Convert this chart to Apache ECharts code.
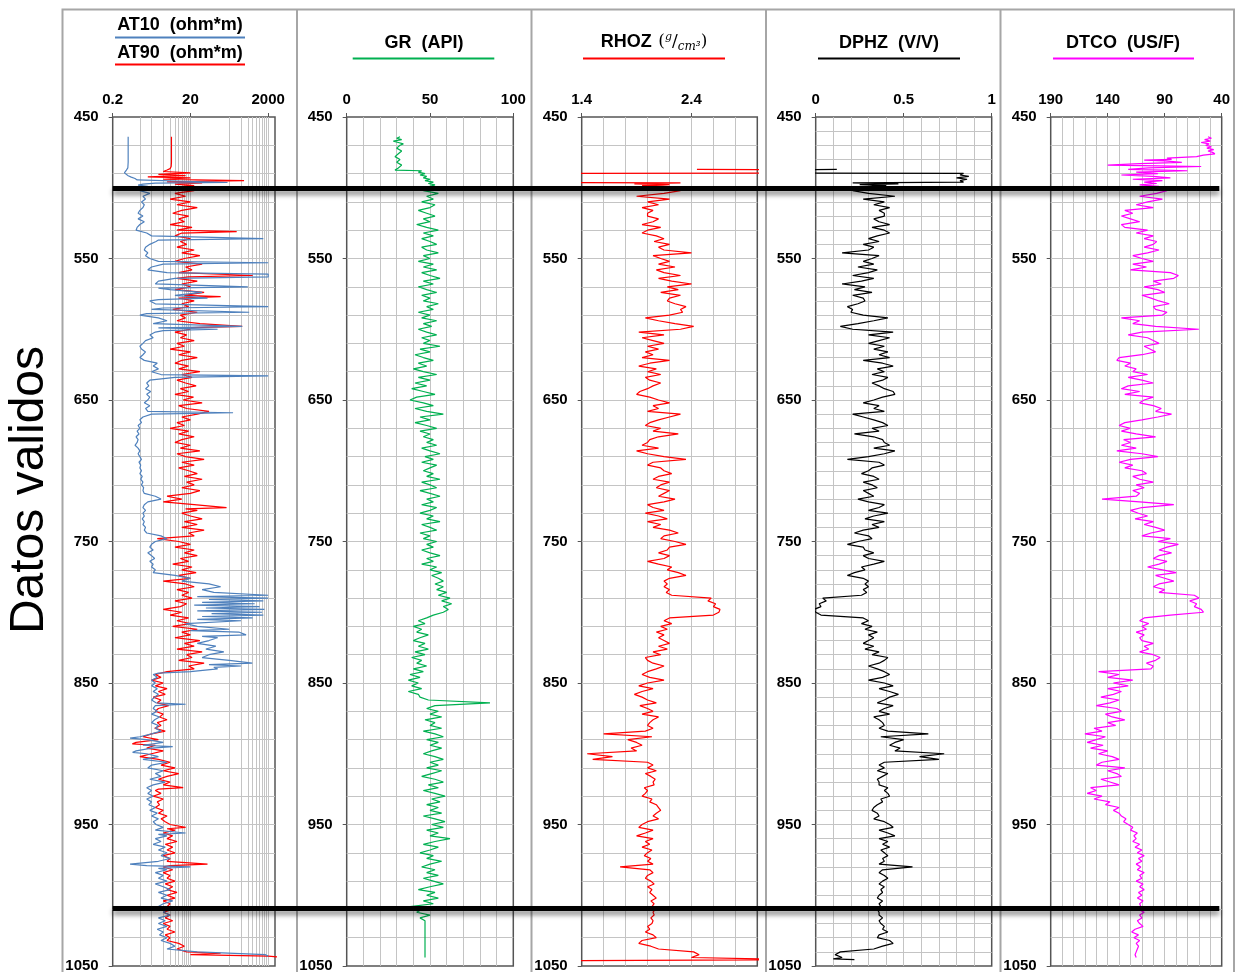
<!DOCTYPE html>
<html><head><meta charset="utf-8">
<script src="https://cdn.jsdelivr.net/npm/echarts@6/dist/echarts.min.js"></script>
<style>html,body{margin:0;padding:0;background:#fff}#chart{width:1241px;height:972px}</style>
</head><body><div id="chart"></div>
<script>
// ---------------- DATA ----------------
const DEPTH_MIN = 450, DEPTH_MAX = 1050;
const DEPTH_START = 500, DEPTH_STEP = 2;
const boundaryDepths = [500, 1009];
const depthTickLabels = [450, 550, 650, 750, 850, 950, 1050];

const atTickLabels = [0.2, 20, 2000];
const grTickLabels = [0, 50, 100];
const rhozTickLabels = [1.4, 2.4];
const dphzTickLabels = [0, 0.5, 1];
const dtcoTickLabels = [190, 140, 90, 40];
const atGridValues = [1, 2, 4, 6, 8, 10, 12, 14, 16, 18, 20, 200, 400, 600, 800, 1000, 1200, 1400, 1600, 1800, 2000];

// [depth, ohm*m]
const at10 = [[464,0.5],[470,0.5],[476,0.5],[482,0.5],[486,0.49],[487.5,0.45],[488.5,0.42],[489.5,0.4],[490.5,0.44],[491.5,0.5],[492.5,0.6],[493.5,0.75],[494.5,0.85],[495.5,0.9],[496.3,180],[496.8,2.5],[497.5,1.2],[498.2,0.9],[499,1.6],
[500,1.5],[502,1.0],[504,1.8],[506,1.2],[508,1.4],[510,1.1],[512,1.3],[514,1.2],[516,1.0],[518,0.9],
[520,1.2],[522,0.9],[524,1.3],[526,1.0],[528,0.85],[530,0.8],[532,1.5],[534,2.0],[536,1500],[537,3.0],[538,2.6],
[540,1.8],[542,1.4],[544,1.3],[546,1.6],[548,1.4],[550,1.8],[552,3.0],[553,2000],[554,4.0],[556,2.0],[558,1.6],
[560,5],[561,2000],[562,1800],[563,2000],[564,8],[566,3],[568,2.5],[570,600],[571,3],[572,6],[574,40],[576,8],[578,55],[579,3],
[580,1.8],[582,2.5],[584,2000],[585,4],[586,2],[588,650],[589,1.5],[590,1.0],[592,3],[594,5],[596,2.2],[598,430],[599,3],
[600,100],[601,4],[602,2.5],[604,1.8],[606,2.2],[608,1.4],[610,1.2],[612,1.0],[614,1.1],[616,1.4],[618,1.2],
[620,1.0],[622,1.3],[624,2.8],[626,2.2],[628,3.0],[630,2.0],[632,3.5],[633,2000],[634,8],[636,1.8],[638,1.5],
[640,1.7],[642,1.4],[644,1.9],[646,1.5],[648,1.8],[650,1.6],[652,1.3],[654,1.8],[656,1.4],[658,1.6],[659,250],
[660,2.0],[662,1.2],[664,1.0],[666,1.1],[668,0.9],[670,1.0],[672,0.85],[674,0.95],[676,0.8],[678,0.9],
[680,0.85],[682,0.75],[684,0.9],[686,1.0],[688,0.9],[690,1.0],[692,1.1],[694,0.95],[696,1.05],[698,1.0],
[700,1.1],[702,1.0],[704,1.15],[706,1.05],[708,1.2],[710,1.1],[712,1.25],[714,1.2],[716,1.3],[718,2.5],
[720,3.5],[722,1.6],[724,1.3],[726,1.2],[728,1.4],[730,1.2],[732,1.3],[734,1.15],[736,1.3],[738,1.2],
[740,1.4],[742,1.3],[744,1.5],[746,3.5],[748,5],[750,2.5],[752,2.0],[754,1.8],[756,2.2],[758,1.6],
[760,2.0],[762,2.4],[764,1.8],[766,2.2],[768,2.0],[770,2.5],[772,2.2],[774,8],[776,20],[778,12],
[780,60],[782,120],[784,40],[786,80],[788,2000],[789,30],[790,2000],[791,60],[792,1500],[793,40],[794,900],[795,25],[796,1200],[797,50],[798,1600],[799,30],
[800,1400],[801,70],[802,1500],[803,40],[804,800],[805,30],[806,400],[808,15],[810,30],[812,200],[813,20],[814,350],[816,540],[817,40],[818,100],
[820,60],[822,30],[824,90],[826,50],[828,145],[830,60],[832,40],[834,200],[836,780],[837,60],[838,400],[839,80],
[840,100],[842,20],[843,3],[844,2.2],[846,2.8],[848,2.0],
[850,2.5],[852,2.0],[854,2.8],[856,2.2],[858,3.0],[860,2.4],[862,2.0],[864,2.6],[865,15],[866,2.5],[868,2.2],
[870,2.8],[872,2.0],[874,3.2],[876,2.4],[878,2.0],[880,3.0],[882,2.5],[884,3.5],[886,2.0],[888,1.0],[889,0.56],
[890,1.5],[892,4],[894,1.2],[895,7],[896,2.0],[898,0.8],[899,0.65],[900,1.5],[902,3],[904,1.2],[906,5],[908,2],
[910,1.6],[912,4],[914,2.5],[916,3.5],[918,1.8],[920,4.5],[922,2.2],[924,1.5],[926,2.0],[928,1.6],
[930,2.2],[932,1.5],[934,2.0],[936,1.7],[938,2.5],[940,1.8],[942,2.8],[944,2.0],[946,3.0],[948,2.2],
[950,2.6],[952,4],[954,2.5],[956,15],[957,3],[958,5],[960,2.5],[962,3.5],[964,2.2],[966,4.5],[968,3.0],
[970,5.0],[972,3.5],[974,6],[976,3],[978,0.56],[979,1.5],[980,20],[981,3],[982,5],[984,2.5],[986,4],[988,3],
[990,5],[992,2.5],[994,4],[996,6],[998,3],[1000,5],[1002,3.5],[1004,7],[1006,4],[1008,3],
[1010,5],[1012,4],[1014,6],[1016,3],[1018,4.5],[1020,3],[1022,5],[1024,2.8],[1026,4],[1028,3.2],
[1030,5],[1032,3.5],[1034,6],[1036,8],[1038,5],[1040,30],[1042,1700],[1043,2000]];

const at90 = [[464,6.5],[470,6.5],[476,6.5],[482,6.5],[485,6.4],[486.5,6.0],[487.5,5.0],[488.5,4],[489.5,20],[490.5,3],[491.5,15],[492.3,1.6],[493,20],[494,4],[495,480],[495.8,5],[496.5,40],[497.5,8],[498.5,25],[499.3,10],
[500,10],[502,25],[504,8],[506,15],[508,6],[510,20],[512,9],[514,30],[516,12],[518,7],
[520,18],[522,10],[524,14],[526,6],[528,22],[530,9],[531,310],[532,12],[534,8],[536,20],[538,11],
[540,16],[542,9],[544,25],[546,12],[548,35],[550,14],[552,8],[554,40],[556,15],[558,22],
[560,10],[562,800],[563,18],[564,9],[566,30],[568,12],[570,20],[572,8],[574,45],[576,14],[577,120],[578,10],
[580,25],[582,12],[584,18],[586,7],[588,30],[590,11],[592,15],[594,9],[596,35],[598,430],[599,12],
[600,20],[602,8],[604,16],[606,11],[608,25],[610,9],[612,14],[614,6],[616,20],[618,10],
[620,30],[622,12],[624,8],[626,18],[628,10],[630,35],[632,12],[634,22],[636,9],[638,15],
[640,28],[642,11],[644,18],[646,8],[648,24],[650,13],[652,40],[654,10],[656,16],[658,60],
[660,30],[662,12],[664,20],[666,9],[668,14],[670,6],[672,18],[674,10],[676,25],[678,12],
[680,8],[682,20],[684,11],[686,35],[688,9],[690,15],[692,45],[694,12],[696,25],[698,10],
[700,18],[702,30],[704,14],[706,40],[708,16],[710,25],[712,12],[714,35],[716,20],[718,5],
[720,12],[722,4],[724,25],[726,170],[727,15],[728,30],[730,12],[732,20],[734,40],[736,14],[738,30],
[740,12],[742,45],[744,18],[746,25],[748,2.8],[750,10],[752,20],[754,8],[756,25],[758,14],
[760,30],[762,11],[764,18],[766,7],[768,22],[770,12],[772,28],[774,10],[776,20],[778,4],
[780,15],[782,25],[784,9],[786,18],[788,12],[790,22],[792,8],[794,16],[796,11],[798,4],
[800,12],[802,6],[804,18],[806,9],[808,20],[810,7],[812,30],[814,12],[816,20],[818,8],
[820,35],[822,14],[824,25],[826,9],[828,40],[830,16],[832,22],[834,10],[836,45],[838,18],
[840,25],[842,5],[844,2.5],[846,3.5],[848,2.0],[850,4],[852,2.5],[854,5],[856,3],[858,4.5],
[860,2.2],[862,3.5],[864,2.8],[866,5.5],[868,3],[870,2.5],[872,4],[874,3.2],[876,5],[878,2.8],
[880,3.5],[882,2.4],[884,4.5],[886,2.0],[888,1.2],[890,3],[892,0.8],[893,0.64],[894,2.5],[896,1.5],[898,4],
[900,2],[902,1.0],[904,3],[906,6],[908,3.5],[910,8],[912,4],[914,10],[916,5],[918,3],
[920,6],[922,4],[924,13],[925,3],[926,2.5],[928,3.5],[930,2.2],[932,4],[934,2.8],[936,3.2],[938,2.5],
[940,4],[942,3],[944,5],[946,3.5],[948,4.5],[950,6],[952,15],[953,5],[954,8],[956,4],[958,7],
[960,5],[962,9],[964,4.5],[966,7],[968,5],[970,8],[972,4],[974,6],[976,5],[978,55],[979,6],
[980,4],[982,7],[984,4],[986,6],[988,5],[990,8],[992,4.5],[994,7],[996,5],[998,9],
[1000,5],[1002,8],[1004,4],[1006,6],[1008,5],[1010,7],[1012,4],[1014,6],[1016,4.5],[1018,7],
[1020,4],[1022,6],[1024,5],[1026,8],[1028,4.5],[1030,6],[1032,5],[1034,10],[1036,14],[1038,9],
[1040,16],[1041,120],[1042,20],[1043,2000],[1043.6,3500]];

// GR (API): head [depth, value], then regular samples from DEPTH_START every DEPTH_STEP
const grHead = [[464,32],[465,30],[466,33],[467,28],[468,31],[469,34],[470,32],[472,30],[474,33],[476,31],[478,29],[480,32],[482,30],[484,33],[486,31],[487.5,29],[488,45],[489,43],[490,47],[491,44],[492,48],[493,46],[494,50],[495,47],[496,52],[497,49],[498,53],[499,50]];
const grMain = [50,46,55,48,52,45,53,50,43,48,
53,46,50,42,48,55,46,52,45,50,
54,45,48,55,46,50,43,52,46,54,
45,50,56,46,52,43,48,54,45,50,
46,55,48,52,43,50,45,54,46,51,
43,48,54,45,50,46,56,44,50,41,
46,52,43,48,40,46,54,43,50,41,
48,39,46,53,42,38,46,52,41,48,
58,44,50,41,48,54,44,50,46,52,
48,54,45,50,56,47,52,45,54,50,
46,52,48,56,45,50,54,44,50,56,
48,52,45,54,50,44,52,48,56,45,
50,54,44,50,46,54,48,52,45,50,
56,48,52,45,54,50,57,51,55,58,
53,58,54,60,55,62,57,63,58,61,
58,52,48,43,47,40,45,42,49,44,
40,47,43,49,41,47,39,45,42,48,
40,46,38,44,37,43,39,45,37,43,
44,49,86,53,48,55,50,57,47,53,
50,57,46,53,58,48,55,50,57,51,
46,53,58,50,55,48,57,51,45,53,
58,49,55,46,53,59,51,56,48,55,
50,57,46,53,59,51,58,48,55,50,
62,53,46,55,50,44,52,48,57,50,
45,53,48,55,46,52,58,50,43,53,
48,55,46,52,38,45,42,50,44,47,
47,47,47,47,47,47,47,47,47,47,
47,47,47];

// RHOZ (g/cm3)
const rhozHead = [[487,2.45],[487.3,3.3],[489.6,3.3],[489.9,1.25],[496.3,1.25],[496.6,2.3],[497.2,1.88],[497.8,2.2],[498.5,1.95],[499.2,2.2]];
const rhozMain = [2.25,2.3,2.15,1.9,2.2,2.0,2.1,1.95,2.05,2.0,
2.0,2.1,2.05,1.95,2.12,2.0,1.95,2.08,2.15,2.06,
2.2,2.1,2.15,2.4,2.05,2.12,2.2,2.1,2.25,2.08,
2.15,2.3,2.1,2.22,2.4,2.18,2.28,2.12,2.3,2.2,
2.18,2.25,2.35,2.3,2.32,2.2,1.98,2.1,2.25,2.42,
2.3,1.92,2.15,1.95,2.05,2.15,2.0,2.1,1.98,2.05,
1.95,2.2,2.02,1.92,2.08,2.0,2.12,1.98,2.02,2.12,
2.05,2.0,1.93,1.9,2.02,2.1,2.2,2.05,2.1,2.0,
2.3,2.2,2.1,2.02,1.98,2.12,2.05,2.28,2.1,2.02,
2.0,1.95,2.1,1.9,2.0,2.15,2.35,2.05,2.0,2.12,
2.15,2.22,2.1,2.05,2.2,2.12,2.08,2.2,2.15,2.1,
2.25,2.15,2.0,2.05,2.15,1.98,2.1,2.18,2.0,2.12,
2.05,2.2,2.28,2.15,2.12,2.25,2.35,2.2,2.18,2.1,
2.2,2.15,2.0,2.1,2.22,2.18,2.28,2.35,2.2,2.15,
2.18,2.15,2.2,2.17,2.22,2.58,2.55,2.62,2.6,2.66,
2.65,2.6,2.2,2.15,2.22,2.12,2.18,2.08,2.15,2.1,
2.15,2.2,2.1,2.18,2.05,2.12,1.98,2.0,2.05,2.15,
2.08,2.0,1.95,2.02,2.15,2.0,1.92,2.05,1.95,1.88,
1.95,2.0,2.08,1.93,2.0,2.05,1.95,2.1,2.05,2.02,
2.0,2.05,1.98,1.6,2.04,1.82,1.9,1.95,1.85,1.9,
1.45,1.68,1.5,2.0,2.05,2.0,2.08,1.98,2.03,2.07,
2.05,2.06,1.97,2.0,1.98,1.95,2.04,2.02,2.08,2.1,
2.12,2.08,2.05,2.1,2.0,1.95,1.92,2.05,1.98,1.9,
2.05,1.98,2.02,1.95,2.04,2.0,1.97,2.03,2.0,2.05,
1.75,2.02,2.05,2.0,1.98,2.03,2.06,2.0,2.04,2.02,
2.05,2.08,2.03,2.06,2.04,2.07,2.05,2.06,2.03,2.05,
2.04,2.0,2.02,1.98,2.05,2.08,1.95,1.92,2.03,2.1,
2.42,2.47,2.4];
const rhozTail = [[1045,2.4],[1045.5,3.3],[1046,3.3],[1046.3,1.2]];

// DPHZ (V/V)
const dphzHead = [[487,0.12],[487.3,-0.05],[489.6,-0.05],[489.9,0.84],[491,0.82],[492,0.87],[493,0.8],[494,0.86],[495,0.82],[496,0.84],[496.6,0.21],[497.2,0.47],[497.8,0.25],[498.5,0.4],[499.2,0.3]];
const dphzMain = [0.24,0.21,0.30,0.45,0.27,0.39,0.33,0.42,0.36,0.39,
0.39,0.33,0.36,0.42,0.32,0.39,0.42,0.35,0.30,0.36,
0.27,0.33,0.30,0.15,0.36,0.32,0.27,0.33,0.24,0.35,
0.30,0.21,0.33,0.26,0.15,0.28,0.22,0.32,0.21,0.27,
0.28,0.24,0.18,0.21,0.20,0.27,0.41,0.33,0.24,0.14,
0.21,0.44,0.30,0.42,0.36,0.30,0.39,0.33,0.41,0.36,
0.42,0.27,0.38,0.44,0.35,0.39,0.32,0.41,0.38,0.32,
0.36,0.39,0.44,0.45,0.38,0.33,0.27,0.36,0.33,0.39,
0.21,0.27,0.33,0.38,0.41,0.32,0.36,0.22,0.33,0.38,
0.39,0.42,0.33,0.45,0.39,0.30,0.18,0.36,0.39,0.32,
0.30,0.26,0.33,0.36,0.27,0.32,0.35,0.27,0.30,0.33,
0.24,0.30,0.39,0.36,0.30,0.41,0.33,0.28,0.39,0.32,
0.36,0.27,0.22,0.30,0.32,0.24,0.18,0.27,0.28,0.33,
0.27,0.30,0.39,0.33,0.26,0.28,0.22,0.18,0.27,0.30,
0.28,0.30,0.27,0.29,0.26,0.04,0.06,0.02,0.03,-0.01,
0.0,0.03,0.27,0.30,0.26,0.32,0.28,0.35,0.30,0.33,
0.30,0.27,0.33,0.28,0.36,0.32,0.41,0.39,0.36,0.30,
0.35,0.39,0.42,0.38,0.30,0.39,0.44,0.36,0.42,0.47,
0.42,0.39,0.35,0.44,0.39,0.36,0.42,0.33,0.36,0.38,
0.39,0.36,0.41,0.64,0.37,0.50,0.45,0.42,0.48,0.45,
0.73,0.59,0.70,0.39,0.36,0.39,0.35,0.41,0.38,0.35,
0.36,0.36,0.41,0.39,0.41,0.42,0.37,0.38,0.35,0.33,
0.32,0.35,0.36,0.33,0.39,0.42,0.44,0.36,0.41,0.45,
0.36,0.41,0.38,0.42,0.37,0.39,0.41,0.38,0.39,0.36,
0.55,0.38,0.36,0.39,0.41,0.38,0.36,0.39,0.37,0.38,
0.36,0.35,0.38,0.36,0.37,0.35,0.36,0.36,0.38,0.36,
0.37,0.39,0.38,0.41,0.36,0.35,0.42,0.44,0.38,0.33,
0.14,0.11,0.15];
const dphzTail = [[1045,0.1],[1045.5,0.22]];

// DTCO (us/ft)
const dtcoHead = [[464,52],[465,49],[466,55],[467,50],[468,58],[469,51],[470,54],[471,49],[472,53],[473,47],[474,52],[475,48],[476,46],[477,56],[478,62],[479,88],[480,84],[480.5,108],[481,90],[482,75],[483,112],[484,140],[484.5,96],[485,58],[486,104],[487,122],[487.5,92],[488,70],[489,115],[490,96],[491,128],[492,100],[493,85],[494,118],[495,92],[496,108],[497,97],[498,112],[499,95]];
const dtcoMain = [100,88,97,112,92,105,115,100,125,118,
128,120,112,128,125,105,115,100,108,97,
100,108,95,105,118,110,100,118,106,120,
85,78,82,100,93,108,96,90,110,102,
95,86,100,98,88,92,128,112,118,98,
60,110,122,105,100,95,108,103,98,110,
130,132,120,125,115,118,105,122,110,100,
122,128,112,125,100,108,112,100,93,98,
84,96,110,125,130,120,128,115,98,126,
120,128,115,132,110,96,120,130,118,125,
110,106,118,112,100,115,108,118,112,115,
145,112,82,110,120,113,105,116,100,108,
98,90,102,110,85,96,78,88,95,84,
95,100,88,95,105,92,80,98,90,82,
95,100,90,95,64,60,68,62,64,58,
56,85,108,112,104,110,106,115,108,112,
110,100,108,104,112,100,94,98,106,100,
102,148,130,140,118,135,122,140,128,135,
146,130,138,150,132,128,142,136,125,140,
133,152,145,160,142,150,158,144,155,140,
148,136,130,145,150,125,140,132,128,146,
138,130,155,150,158,145,152,138,142,130,
135,130,128,124,126,122,118,120,114,117,
115,118,112,116,110,114,108,113,110,115,
111,114,108,112,110,115,109,112,108,113,
110,114,109,112,111,113,108,112,110,114,
112,109,116,119,113,117,112,115,113,114,
115,116,115];

// ---------------- BUILD ----------------
function pairs(list) { return list.map(p => [p[1], p[0]]); }
function curve(head, main, tail) {
  const out = pairs(head || []);
  main.forEach((v, i) => out.push([v, DEPTH_START + i * DEPTH_STEP]));
  return out.concat(pairs(tail || []));
}

const FONT = 'Arial, "Liberation Sans", sans-serif';
const GRID_C = '#c4c4c4';
const FRAME_C = '#555555';
const TOP = 117, HEIGHT = 849;
const fmt = v => String(+(+v).toFixed(3));

const tracks = [
  { left: 112.7, width: 162.3, type: 'log', min: 0.2, max: 3000, labels: atTickLabels, yStep: 20 },
  { left: 346.7, width: 166.6, type: 'value', min: 0, max: 100, interval: 10, labels: grTickLabels, yStep: 20 },
  { left: 581.7, width: 175.6, type: 'value', min: 1.4, max: 3.0, interval: 0.2, labels: rhozTickLabels, yStep: 20 },
  { left: 815.7, width: 176, type: 'value', min: 0, max: 1, interval: 0.1, labels: dphzTickLabels, yStep: 10 },
  { left: 1050.7, width: 171, type: 'value', min: 40, max: 190, interval: 10, labels: dtcoTickLabels, yStep: 20, inverse: true }
];

const grid = [], xAxis = [], yAxis = [];
const labelStyle = { color: '#000', fontWeight: 'bold', fontSize: 15, fontFamily: FONT };
tracks.forEach((t, i) => {
  grid.push({ left: t.left, top: TOP, width: t.width, height: HEIGHT, show: true, borderColor: FRAME_C, borderWidth: 1.5, containLabel: false, outerBoundsMode: 'none' });
  const a = { gridIndex: i, type: t.type, min: t.min, max: t.max, position: 'top', inverse: !!t.inverse,
    axisLine: { show: false }, axisTick: { show: false }, axisLabel: { show: false },
    splitLine: { show: t.type !== 'log', showMinLine: false, showMaxLine: false, lineStyle: { color: GRID_C, width: 1 } } };
  if (t.interval) a.interval = t.interval;
  if (t.type === 'log') a.logBase = 10;
  xAxis.push(a);
  const b = { gridIndex: i, type: t.type, min: t.min, max: t.max, position: 'top', inverse: !!t.inverse,
    axisLine: { show: false }, splitLine: { show: false },
    axisTick: { show: true, length: 4, customValues: t.labels, lineStyle: { color: FRAME_C, width: 1 } },
    axisLabel: Object.assign({ show: true, margin: 10, formatter: fmt, customValues: t.labels }, labelStyle) };
  if (t.type === 'log') b.logBase = 10;
  xAxis.push(b);
  yAxis.push({ gridIndex: i, type: 'value', position: 'left', min: DEPTH_MIN, max: DEPTH_MAX, interval: t.yStep, inverse: true,
    axisLine: { show: false }, axisTick: { show: false }, axisLabel: { show: false },
    splitLine: { show: true, showMinLine: false, showMaxLine: false, lineStyle: { color: GRID_C, width: 1 } } });
  yAxis.push({ gridIndex: i, type: 'value', position: 'left', min: DEPTH_MIN, max: DEPTH_MAX, inverse: true,
    axisLine: { show: false }, splitLine: { show: false },
    axisTick: { show: true, length: 4, customValues: depthTickLabels, lineStyle: { color: FRAME_C } },
    axisLabel: Object.assign({ show: true, margin: 14, formatter: fmt, customValues: depthTickLabels }, labelStyle) });
});
grid.push({ left: 112.7, top: TOP, width: 1219.3 - 112.7, height: HEIGHT, show: false, containLabel: false, outerBoundsMode: 'none' });
xAxis.push({ gridIndex: 5, type: 'value', min: 0, max: 1, show: false });
yAxis.push({ gridIndex: 5, type: 'value', min: DEPTH_MIN, max: DEPTH_MAX, inverse: true, show: false });

function lineSeries(name, ti, data, color, z) {
  return { name, type: 'line', xAxisIndex: ti * 2, yAxisIndex: ti * 2, data, showSymbol: false, symbol: 'none',
    lineStyle: { color, width: 1.2 }, z: z || 3, animation: false, clip: true };
}

const series = [
  { type: 'line', xAxisIndex: 0, yAxisIndex: 0, data: [], silent: true, z: 1,
    markLine: { silent: true, symbol: ['none', 'none'], z: 1, animation: false, label: { show: false },
      lineStyle: { color: GRID_C, width: 1, type: 'solid' }, emphasis: { disabled: true },
      data: atGridValues.map(v => ({ xAxis: v })) } },
  lineSeries('AT90', 0, pairs(at90), '#ff0000', 3),
  lineSeries('AT10', 0, pairs(at10), '#4f81bd', 4),
  lineSeries('GR', 1, curve(grHead, grMain), '#00b050'),
  lineSeries('RHOZ', 2, curve(rhozHead, rhozMain, rhozTail), '#ff0000'),
  lineSeries('DPHZ', 3, curve(dphzHead, dphzMain, dphzTail), '#000000'),
  lineSeries('DTCO', 4, curve(dtcoHead, dtcoMain), '#ff00ff'),
  { type: 'line', xAxisIndex: 10, yAxisIndex: 10, data: [], z: 20, silent: true,
    markLine: { silent: true, symbol: ['none', 'none'], z: 20, animation: false, label: { show: false },
      emphasis: { disabled: true },
      lineStyle: { color: '#000', width: 5, type: 'solid', shadowColor: 'rgba(0,0,0,0.45)', shadowBlur: 5, shadowOffsetY: 4 },
      data: boundaryDepths.map(d => ({ yAxis: d })) } }
];

const titleFont = 'bold 18px ' + FONT;
function txt(x, y, text, extra) {
  return Object.assign({ type: 'text', x, y, silent: true, style: { text, font: titleFont, fill: '#000', align: 'center', verticalAlign: 'middle', textAlign: 'center', textVerticalAlign: 'middle' } }, extra || {});
}
function uline(x1, x2, y, color) {
  return { type: 'line', silent: true, shape: { x1, y1: y, x2, y2: y }, style: { stroke: color, lineWidth: 2 } };
}
const sep = x => ({ type: 'line', silent: true, shape: { x1: x, y1: 9.5, x2: x, y2: 972 }, style: { stroke: '#a6a6a6', lineWidth: 2 } });

const graphic = [
  { type: 'rect', silent: true, shape: { x: 62.5, y: 9.5, width: 1171.5, height: 990 }, style: { fill: 'none', stroke: '#a6a6a6', lineWidth: 2 } },
  sep(297), sep(531.5), sep(766), sep(1000.5),
  txt(180, 25, 'AT10  (ohm*m)'), uline(115, 245, 37.5, '#4f81bd'),
  txt(180, 53, 'AT90  (ohm*m)'), uline(115, 245, 64.5, '#ff0000'),
  txt(424, 43, 'GR  (API)'), uline(352.7, 494.3, 58.5, '#00b050'),
  { type: 'text', x: 654, y: 42, silent: true, style: {
      text: '{b|RHOZ}  {p|(}{s|g}{p|/}{c|cm³}{p|)}', align: 'center', verticalAlign: 'middle', textAlign: 'center', textVerticalAlign: 'middle',
      rich: {
        b: { font: titleFont, fill: '#000', color: '#000' },
        p: { fontFamily: '"DejaVu Serif", serif', fontSize: 17, color: '#000', fill: '#000' },
        s: { fontFamily: '"DejaVu Serif", serif', fontStyle: 'italic', fontSize: 11, color: '#000', fill: '#000', padding: [0, 0, 9, 0] },
        c: { fontFamily: '"DejaVu Serif", serif', fontStyle: 'italic', fontSize: 12, color: '#000', fill: '#000', padding: [9, 0, 0, 0] }
      } } },
  uline(583, 725, 58.5, '#ff0000'),
  txt(889, 43, 'DPHZ  (V/V)'), uline(818, 960, 58.5, '#000000'),
  txt(1123, 43, 'DTCO  (US/F)'), uline(1053, 1194, 58.5, '#ff00ff'),
  { type: 'text', x: 30, y: 490, rotation: Math.PI / 2, silent: true,
    style: { text: 'Datos validos', font: '48px ' + FONT, fill: '#000', align: 'center', verticalAlign: 'middle', textAlign: 'center', textVerticalAlign: 'middle' } }
];

const chart = echarts.init(document.getElementById('chart'), null, { renderer: 'canvas' });
chart.setOption({ animation: false, backgroundColor: '#fff', grid, xAxis, yAxis, series, graphic });
</script>
</body></html>
